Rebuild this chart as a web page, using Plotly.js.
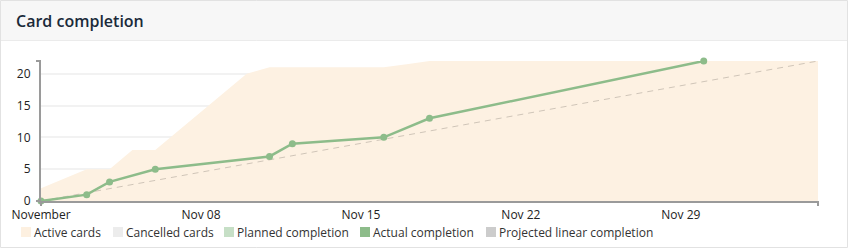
<!DOCTYPE html>
<html>
<head>
<meta charset="utf-8">
<script src="https://cdn.plot.ly/plotly-3.0.1.min.js"></script>
<style>
html,body{margin:0;padding:0;background:#fff;}
#chart{width:849px;height:249px;}
</style>
</head>
<body>
<div id="chart"></div>
<script>
// ---- data ----
const activeDates = ['2023-11-01','2023-11-02','2023-11-03','2023-11-04','2023-11-05','2023-11-06','2023-11-07','2023-11-08','2023-11-09','2023-11-10','2023-11-11','2023-11-12','2023-11-13','2023-11-14','2023-11-15','2023-11-16','2023-11-17','2023-11-18','2023-11-19','2023-11-20','2023-11-21','2023-11-22','2023-11-23','2023-11-24','2023-11-25','2023-11-26','2023-11-27','2023-11-28','2023-11-29','2023-11-30','2023-12-01','2023-12-02','2023-12-03','2023-12-04','2023-12-05'];
const activeCards = [2,3.5,5,5,8,8,11,14,17,20,21,21,21,21,21,21,21.5,22,22,22,22,22,22,22,22,22,22,22,22,22,22,22,22,22,22];
const actualDates = ['2023-11-01','2023-11-03','2023-11-04','2023-11-06','2023-11-11','2023-11-12','2023-11-16','2023-11-18','2023-11-30'];
const actualCompletion = [0,1,3,5,7,9,10,13,22];
const projectedDates = ['2023-11-01','2023-12-05'];
const projectedCompletion = [0,22];
const xTickVals = ['2023-11-01','2023-11-08','2023-11-15','2023-11-22','2023-11-29'];
const xTickText = ['November','Nov 08','Nov 15','Nov 22','Nov 29'];
const yTickVals = [0,5,10,15,20];
const legendNames = ['Active cards','Cancelled cards','Planned completion','Actual completion','Projected linear completion'];
const legendColors = ['#fdf0e0','#ececec','#c6dfc6','#8dbc8a','#cccccc'];

// ---- layout helpers ----
const W=849, H=249, L=41, R=818, T=61, B=201;
const px = v => (v - L)/(R - L);
const py = v => (B - v)/(B - T);

// ---- traces ----
const traces = [
  {x: activeDates, y: activeCards, type:'scatter', mode:'lines', fill:'tozeroy', name:legendNames[0],
   fillcolor:'#fdf1e2', line:{width:0, color:'#fdf1e2'}, showlegend:false, hoverinfo:'skip'},
  {x: projectedDates, y: projectedCompletion, type:'scatter', mode:'lines', name:legendNames[4],
   line:{color:'rgba(170,160,150,0.55)', width:1, dash:'6px,5px'}, showlegend:false},
  {x: actualDates, y: actualCompletion, type:'scatter', mode:'lines+markers', name:legendNames[3],
   line:{color:'#8dbc8a', width:2.5}, marker:{color:'#8dbc8a', size:7}, showlegend:false, cliponaxis:false}
];

// legend (swatch + label) placed like the reference's compact legend
const swatchLeft = [21, 113, 224, 360, 486];
const legendShapes = [], legendAnns = [];
legendNames.forEach((n,i)=>{
  const x0 = swatchLeft[i];
  legendShapes.push({type:'rect', xref:'paper', yref:'paper', x0:px(x0), x1:px(x0+10),
    y0:py(237), y1:py(227), fillcolor:legendColors[i], line:{width:0}});
  legendAnns.push({xref:'paper', yref:'paper', x:px(x0+12), y:py(232), xanchor:'left', yanchor:'middle',
    text:n, showarrow:false, borderpad:0, font:{size:12, color:'#333'}});
});

const layout = {
  width: W, height: H,
  margin:{l:L, r:W-R, t:T, b:H-B, pad:0},
  paper_bgcolor:'#ffffff', plot_bgcolor:'rgba(0,0,0,0)',
  font:{family:'"Open Sans", sans-serif', size:12, color:'#333'},
  title:{text:'Card completion', x:16/W, xref:'container', xanchor:'left',
         y:1-21/H, yref:'container', yanchor:'middle',
         font:{family:'"Open Sans", sans-serif', size:16, color:'#1a2a3a', weight:600}},
  xaxis:{type:'date', range:['2023-11-01','2023-12-05'], tickvals:xTickVals, ticktext:xTickText,
         showgrid:false, zeroline:false, showline:true, linecolor:'#9a9a9a', linewidth:2,
         ticks:'', ticklabelstandoff:2, tickfont:{size:12, color:'#222'}, fixedrange:true},
  yaxis:{range:[0,22], tickvals:yTickVals, showgrid:true, gridcolor:'#f2f2f2', gridwidth:2,
         zeroline:false, showline:true, linecolor:'#9a9a9a', linewidth:2,
         ticks:'', ticklabelstandoff:6, tickfont:{size:12, color:'#222'}, fixedrange:true},
  showlegend:false,
  annotations: legendAnns,
  shapes:[
    {type:'rect', xref:'paper', yref:'paper', x0:px(0.5), x1:px(848), y0:py(40), y1:py(0.5),
     fillcolor:'#f7f7f7', line:{width:0}, layer:'below'},
    {type:'line', xref:'paper', yref:'paper', x0:px(0.5), x1:px(848), y0:py(40.5), y1:py(40.5),
     line:{color:'#ebebeb', width:1}, layer:'below'},
    {type:'rect', xref:'paper', yref:'paper', x0:px(0.5), x1:px(847.5), y0:py(247.5), y1:py(0.5),
     fillcolor:'rgba(0,0,0,0)', line:{color:'#e2e2e2', width:1}, layer:'above'},
    {type:'line', xref:'paper', yref:'paper', x0:px(36), x1:px(41), y0:1, y1:1,
     line:{color:'#9a9a9a', width:2}},
    {type:'line', xref:'paper', yref:'paper', x0:px(36), x1:px(41), y0:0, y1:0,
     line:{color:'#9a9a9a', width:2}},
    {type:'line', xref:'paper', yref:'paper', x0:0, x1:0, y0:0, y1:py(206),
     line:{color:'#9a9a9a', width:2}},
    {type:'line', xref:'paper', yref:'paper', x0:1, x1:1, y0:0, y1:py(206),
     line:{color:'#9a9a9a', width:2}}
  ].concat(legendShapes)
};

Plotly.newPlot('chart', traces, layout, {staticPlot:true, displayModeBar:false});
</script>
</body>
</html>
